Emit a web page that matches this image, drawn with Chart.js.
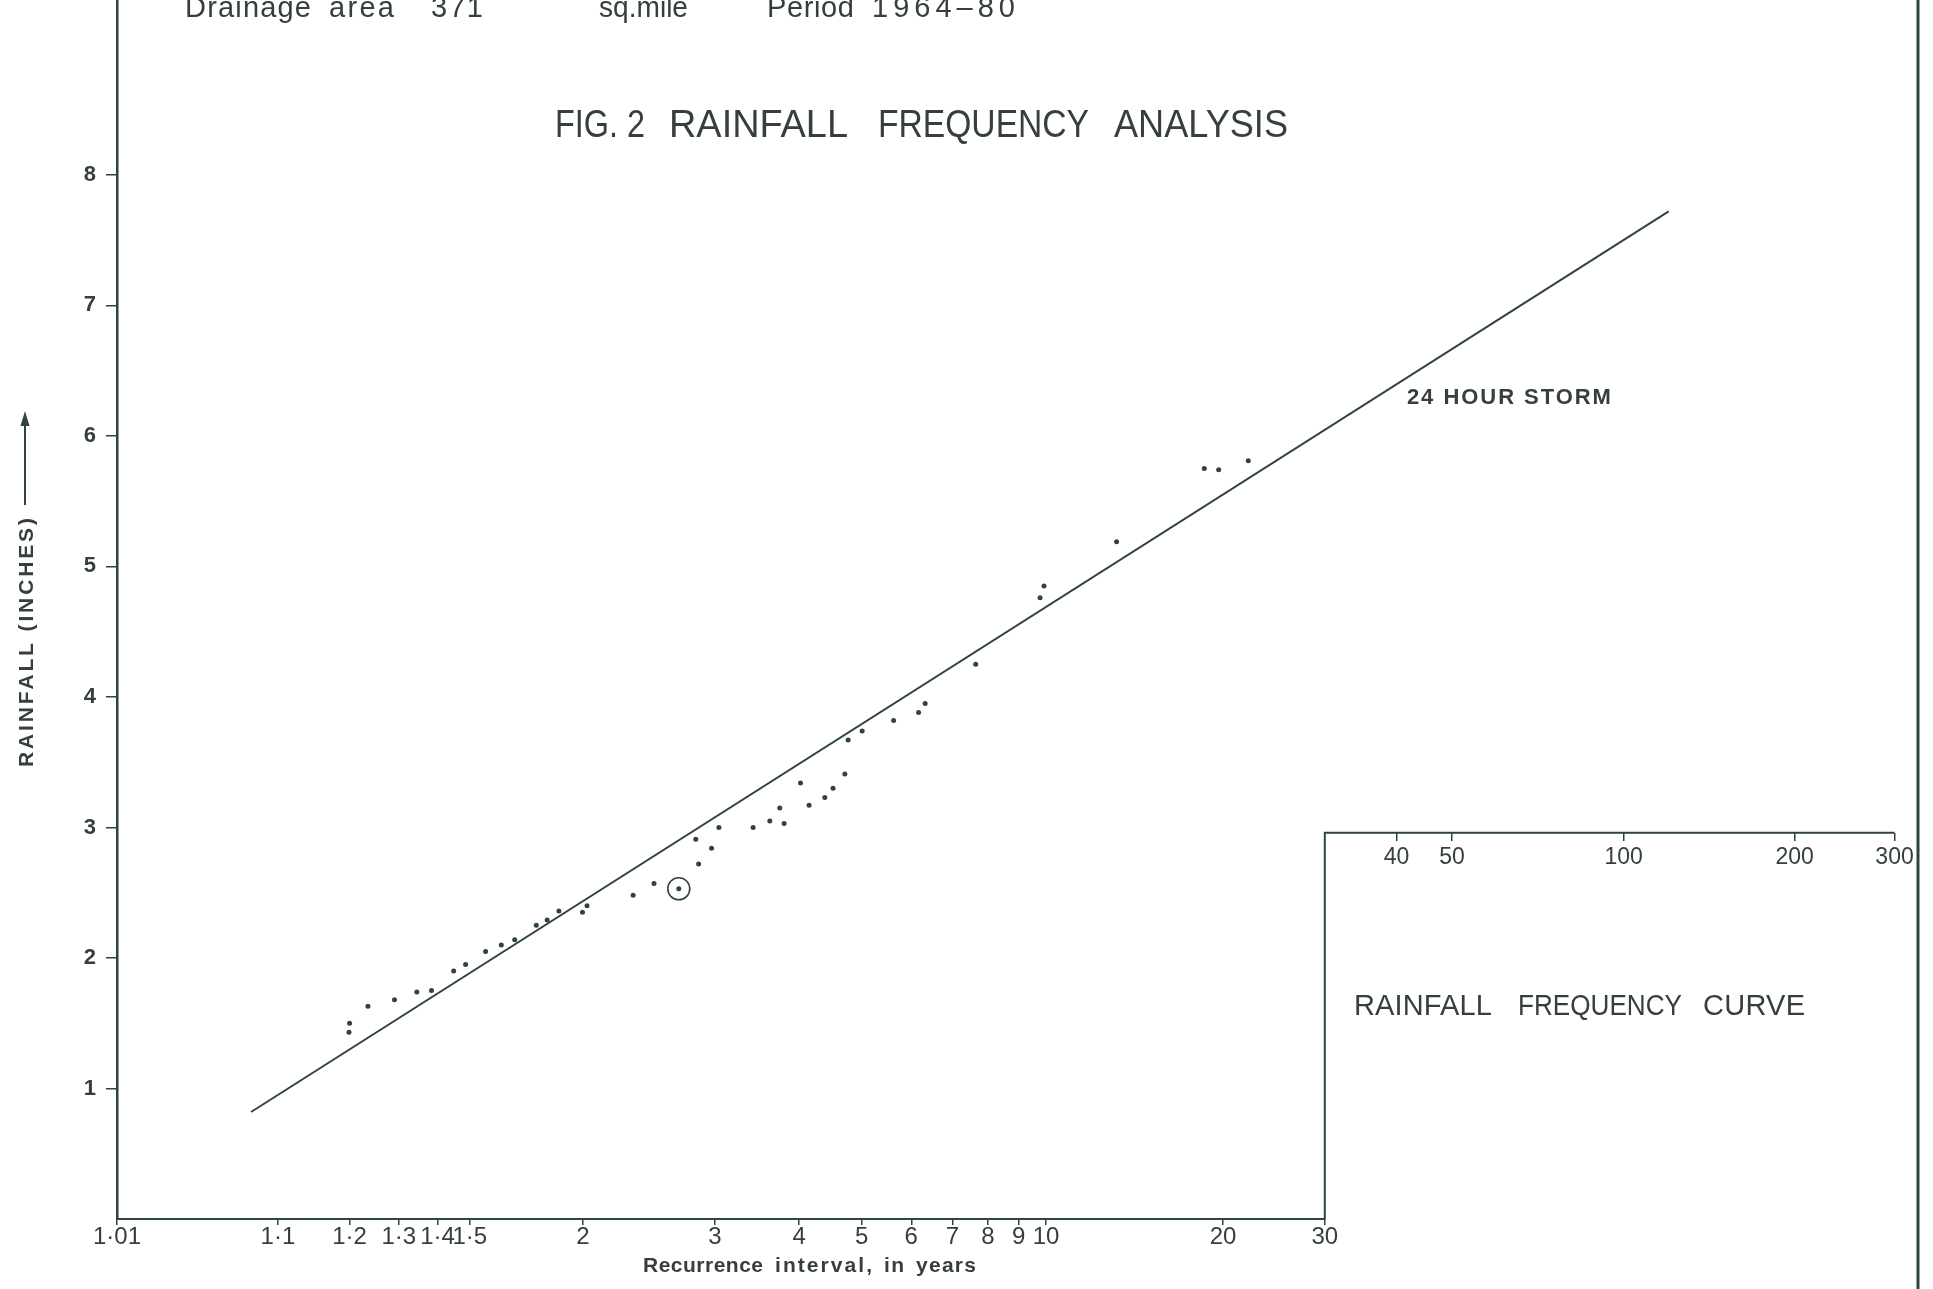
<!DOCTYPE html>
<html>
<head>
<meta charset="utf-8">
<title>Fig. 2 Rainfall frequency analysis</title>
<script src="https://cdn.jsdelivr.net/npm/chart.js@4.4.1/dist/chart.umd.min.js"></script>
<style>
  html, body { margin: 0; padding: 0; background: #fff; }
  #wrap { width: 1933px; height: 1289px; }
</style>
</head>
<body>
<div id="wrap"><canvas id="chart" width="1933" height="1289"></canvas></div>
<script>
// recurrence interval (years) and 24 hour rainfall (inches) of each plotted storm
const recurrence = [
  1.199, 1.200, 1.234, 1.290, 1.344, 1.383, 1.448, 1.486, 1.555, 1.614,
  1.668, 1.762, 1.813, 1.871, 1.997, 2.023, 2.316, 2.469, 2.669, 2.845,
  2.968, 2.819, 3.041, 3.411, 3.612, 3.738, 3.795, 4.142, 4.019, 4.380,
  4.510, 4.706, 4.762, 5.010, 5.621, 6.165, 6.318, 7.640, 9.77, 9.92,
  13.15, 18.57, 19.66, 22.11
]
const rainfall = [
  1.43, 1.50, 1.63, 1.68, 1.74, 1.75, 1.90, 1.95, 2.05, 2.10,
  2.14, 2.25, 2.29, 2.36, 2.35, 2.40, 2.48, 2.57, 2.53, 2.72,
  2.84, 2.91, 3.00, 3.00, 3.05, 3.15, 3.03, 3.17, 3.34, 3.23,
  3.30, 3.41, 3.67, 3.74, 3.82, 3.88, 3.95, 4.25, 4.76, 4.85,
  5.19, 5.75, 5.74, 5.81
]
const circledIndex = 18

// fitted "24 hour storm" line, its two end points
const fitRecurrence = [1.074, 120]
const fitRainfall = [0.82, 7.72]

// axes
const xTickYears = [1.01, 1.1, 1.2, 1.3, 1.4, 1.5, 2, 3, 4, 5, 6, 7, 8, 9, 10, 20, 30]
const xTickLabels = ["1·01", "1·1", "1·2", "1·3", "1·4", "1·5", "2", "3", "4", "5", "6", "7", "8", "9", "10", "20", "30"]
const insetTickYears = [40, 50, 100, 200, 300]
const insetTickLabels = ["40", "50", "100", "200", "300"]
const yTicks = [1, 2, 3, 4, 5, 6, 7, 8]
const xMinYears = 1.01
const xMaxYears = 330
const yMax = 9.34
const insetTopRain = 2.96

// Gumbel reduced variate, the probability paper's horizontal scale
const gumbel = t => -Math.log(-Math.log(1 - 1 / t))

const ink = "#2f4341"
const textInk = "#353f3e"
const fam = "'Liberation Sans', Arial, sans-serif"

function drawFitted(ctx, text, x, y, width) {
  ctx.save()
  if ("letterSpacing" in ctx) ctx.letterSpacing = "0px"
  const w = ctx.measureText(text).width
  if (w < width && text.length > 1 && "letterSpacing" in ctx) {
    ctx.letterSpacing = ((width - w) / (text.length - 1)) + "px"
    ctx.fillText(text, x, y)
  } else {
    ctx.translate(x, y)
    ctx.scale(width / w, 1)
    ctx.fillText(text, 0, 0)
  }
  ctx.restore()
}

const paperPlugin = {
  id: "paper",
  beforeDraw(chart) {
    const ctx = chart.ctx
    ctx.save()
    ctx.fillStyle = "#fff"
    ctx.fillRect(0, 0, chart.width, chart.height)
    ctx.restore()
  },
  afterDraw(chart) {
    const { ctx, chartArea } = chart
    const x = chart.scales.x
    const y = chart.scales.y
    const px = t => x.getPixelForValue(gumbel(t))

    ctx.save()
    ctx.strokeStyle = ink
    ctx.lineCap = "butt"

    // bottom axis up to 30 years, then the inset box
    ctx.lineWidth = 2
    ctx.beginPath()
    ctx.moveTo(chartArea.left, chartArea.bottom)
    ctx.lineTo(px(30), chartArea.bottom)
    ctx.moveTo(px(30), chartArea.bottom)
    ctx.lineTo(px(30), y.getPixelForValue(insetTopRain))
    ctx.lineTo(px(300), y.getPixelForValue(insetTopRain))
    ctx.stroke()

    // sheet edge on the right
    ctx.lineWidth = 3
    ctx.beginPath()
    ctx.moveTo(chartArea.right, 0)
    ctx.lineTo(chartArea.right, chart.height)
    ctx.stroke()

    // arrow beside the y title
    ctx.lineWidth = 2
    ctx.beginPath()
    ctx.moveTo(25, 505)
    ctx.lineTo(25, 420)
    ctx.stroke()
    ctx.fillStyle = ink
    ctx.beginPath()
    ctx.moveTo(25, 411)
    ctx.lineTo(20.5, 426)
    ctx.lineTo(29.5, 426)
    ctx.closePath()
    ctx.fill()

    ctx.fillStyle = textInk
    ctx.textAlign = "left"
    ctx.textBaseline = "alphabetic"

    // header, cut by the top of the sheet
    ctx.font = `29px ${fam}`
    ;[["Drainage", 185, 126], ["area", 329, 65], ["371", 431, 52],
      ["sq.mile", 599, 89], ["Period", 767, 87], ["1964–80", 872, 143]]
      .forEach(([t, l, w]) => drawFitted(ctx, t, l, 17, w))

    // figure title
    ctx.font = `38px ${fam}`
    ;[["FIG. 2", 555, 90], ["RAINFALL", 669, 179], ["FREQUENCY", 878, 211], ["ANALYSIS", 1114, 174]]
      .forEach(([t, l, w]) => drawFitted(ctx, t, l, 137, w))

    // curve label
    ctx.font = `bold 22px ${fam}`
    ctx.textBaseline = "middle"
    drawFitted(ctx, "24 HOUR STORM", px(41.7), y.getPixelForValue(6.29), 204)
    ctx.textBaseline = "alphabetic"

    // inset caption
    ctx.font = `29px ${fam}`
    ;[["RAINFALL", 1354, 138], ["FREQUENCY", 1518, 164], ["CURVE", 1703, 102]]
      .forEach(([t, l, w]) => drawFitted(ctx, t, l, 1015, w))

    // x title
    ctx.font = `bold 21px ${fam}`
    ;[["Recurrence", 643, 120], ["interval,", 775, 97], ["in", 884, 20], ["years", 916, 60]]
      .forEach(([t, l, w]) => drawFitted(ctx, t, l, 1272, w))

    // y title
    ctx.save()
    ctx.translate(33, 767)
    ctx.rotate(-Math.PI / 2)
    drawFitted(ctx, "RAINFALL (INCHES)", 0, 0, 249)
    ctx.restore()

    ctx.restore()
  },
}

const noPad = s => { s.paddingTop = 0; s.paddingBottom = 0; s.paddingLeft = 0; s.paddingRight = 0 }

new Chart(document.getElementById("chart"), {
  type: "scatter",
  data: {
    datasets: [
      {
        type: "line",
        label: "24 hour storm",
        data: fitRecurrence.map((t, i) => ({ x: gumbel(t), y: fitRainfall[i] })),
        showLine: true,
        borderColor: ink,
        borderWidth: 2,
        pointRadius: 0,
        fill: false,
        tension: 0,
      },
      {
        label: "annual maxima",
        data: recurrence.map((t, i) => ({ x: gumbel(t), y: rainfall[i] })),
        pointRadius: 2.5,
        backgroundColor: ink,
        borderWidth: 0,
      },
      {
        label: "circled",
        data: [{ x: gumbel(recurrence[circledIndex]), y: rainfall[circledIndex] }],
        pointRadius: 11,
        backgroundColor: "rgba(0,0,0,0)",
        borderColor: ink,
        borderWidth: 1.6,
      },
    ],
  },
  options: {
    responsive: false,
    animation: false,
    layout: { autoPadding: false, padding: { left: 0, right: 15, top: 0, bottom: 0 } },
    plugins: {
      legend: { display: false },
      tooltip: { enabled: false },
    },
    scales: {
      x: {
        type: "linear",
        position: "bottom",
        min: gumbel(xMinYears),
        max: gumbel(xMaxYears),
        afterBuildTicks: s => { s.ticks = xTickYears.map(t => ({ value: gumbel(t) })) },
        afterFit: s => { s.height = 70; noPad(s) },
        grid: { display: true, drawOnChartArea: false, drawTicks: true, tickLength: 6, color: ink, lineWidth: 1.5 },
        border: { display: false },
        ticks: {
          autoSkip: false,
          maxRotation: 0,
          padding: -2,
          color: textInk,
          font: { family: fam, size: 24 },
          callback: (v, i) => xTickLabels[i],
        },
      },
      x2: {
        type: "linear",
        axis: "x",
        position: { y: insetTopRain },
        min: gumbel(xMinYears),
        max: gumbel(xMaxYears),
        afterBuildTicks: s => { s.ticks = insetTickYears.map(t => ({ value: gumbel(t) })) },
        afterFit: noPad,
        grid: { display: true, drawOnChartArea: false, drawTicks: true, tickLength: 8, color: ink, lineWidth: 1.5 },
        border: { display: false },
        ticks: {
          autoSkip: false,
          maxRotation: 0,
          padding: 3,
          color: textInk,
          font: { family: fam, size: 23 },
          callback: (v, i) => insetTickLabels[i],
        },
      },
      y: {
        type: "linear",
        min: 0,
        max: yMax,
        afterBuildTicks: s => { s.ticks = yTicks.map(v => ({ value: v })) },
        afterFit: s => { s.width = 117; noPad(s) },
        grid: { display: true, drawOnChartArea: false, drawTicks: true, tickLength: 11, color: ink, lineWidth: 1.5 },
        border: { display: true, color: ink, width: 2.5 },
        ticks: {
          padding: 10,
          color: textInk,
          font: { family: fam, size: 22, weight: "bold" },
        },
      },
    },
  },
  plugins: [paperPlugin],
})
</script>
</body>
</html>
